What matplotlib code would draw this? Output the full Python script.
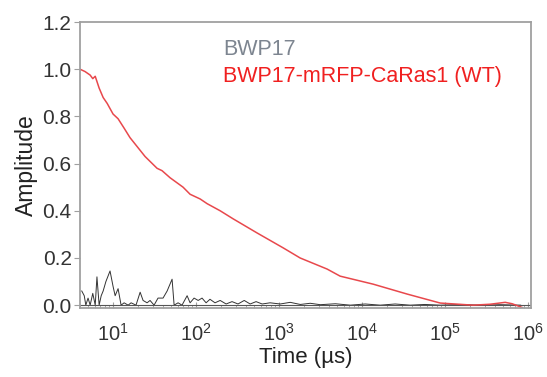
import matplotlib
matplotlib.use("Agg")
import matplotlib.pyplot as plt

plt.rcParams['font.family'] = ['Liberation Sans', 'DejaVu Sans']
plt.rcParams['mathtext.fontset'] = 'custom'
plt.rcParams['mathtext.rm'] = 'Liberation Sans'
plt.rcParams['mathtext.it'] = 'Liberation Sans:italic'
plt.rcParams['mathtext.bf'] = 'Liberation Sans:bold'

# BWP17-mRFP-CaRas1 (WT) decay
t_wt = [4.0, 4.6, 5.3, 5.7, 6.1, 6.8, 7.6, 8.5, 10, 11.5, 13.6, 16, 24.3, 33.9,
        38.9, 48.6, 69.7, 84.7, 112, 136, 195, 279, 543, 1117, 1791, 3785,
        5431, 13580, 34860, 87100, 217000, 348000, 528000, 641000, 847000]
amp_wt = [1.0, 0.99, 0.975, 0.96, 0.97, 0.92, 0.88, 0.855, 0.81, 0.79, 0.75,
          0.71, 0.63, 0.58, 0.57, 0.54, 0.50, 0.47, 0.45, 0.43, 0.40, 0.366,
          0.306, 0.243, 0.20, 0.153, 0.123, 0.089, 0.047, 0.009, 0.0, 0.004,
          0.012, 0.006, -0.01]

# BWP17 control (noise near zero)
t_bwp = [4.2, 4.5, 4.7, 5.0, 5.3, 5.7, 6.1, 6.4, 6.8, 7.2, 7.6, 8.2, 9.2, 10,
         10.6, 11.5, 12.5, 13.6, 15.2, 16.5, 18.9, 21.2, 23, 25.7, 27.9, 31.2,
         34.8, 40, 44.8, 51.4, 54.4, 60.7, 67.7, 78, 84.7, 94.6, 106, 118, 132,
         147, 169, 195, 230, 271, 320, 380, 448, 528, 625, 778, 1030, 1360,
         1800, 2370, 3130, 4760, 7200, 10900, 16500, 24970, 37800, 57000,
         87000, 152000, 265000, 463000, 810000]
amp_bwp = [0.06, 0.04, 0.0, 0.03, 0.0, 0.05, 0.0, 0.12, 0.0, 0.04, 0.06, 0.10,
           0.145, 0.08, 0.04, 0.07, 0.0, 0.01, 0.0, 0.01, 0.0, 0.055, 0.02,
           0.01, 0.02, 0.0, 0.03, 0.03, 0.06, 0.11, 0.0, 0.01, 0.0, 0.04, 0.01,
           0.03, 0.02, 0.03, 0.01, 0.025, 0.01, 0.02, 0.005, 0.015, 0.005, 0.02,
           0.005, 0.015, 0.005, 0.01, 0.005, 0.012, 0.003, 0.008, 0.002, 0.006,
           0.0, 0.005, 0.0, 0.005, 0.0, 0.003, 0.0, 0.003, 0.0, 0.002, 0.0]

fig = plt.figure(figsize=(5.47, 3.77), dpi=100)
ax = fig.add_axes([80 / 547, 1 - 308 / 377, (531 - 80) / 547, (308 - 22) / 377])

ax.plot(t_bwp, amp_bwp, color='#333333', lw=0.7)
ax.axhline(0, color='#555555', lw=0.8)
ax.plot(t_wt, amp_wt, color='#e8484c', lw=1.1)

ax.set_xscale('log')
ax.set_xlim(4.0, 1.08e6)
ax.set_ylim(-0.012, 1.2)
ax.set_yticks([0.0, 0.2, 0.4, 0.6, 0.8, 1.0, 1.2])
ax.set_yticklabels(['0.0', '0.2', '0.4', '0.6', '0.8', '1.0', '1.2'])

for s in ax.spines.values():
    s.set_color('#a0a0a0')
    s.set_linewidth(1.3)
ax.tick_params(axis='both', which='major', color='#a0a0a0',
               labelcolor='#333333', length=4)
ax.tick_params(axis='x', which='major', direction='in', pad=11, labelsize=14.5)
ax.tick_params(axis='x', which='minor', direction='in', length=2, color='#a0a0a0')
ax.tick_params(axis='y', which='major', direction='out', pad=2, labelsize=15)

ax.set_xlabel('Time (µs)', fontsize=16, color='#222222', labelpad=1)
ax.set_ylabel('Amplitude', fontsize=16.5, color='#222222', labelpad=3)

ax.text(0.317, 0.905, 'BWP17', transform=ax.transAxes, fontsize=15.5,
        color='#7d8590', va='center')
ax.text(0.317, 0.81, 'BWP17-mRFP-CaRas1 (WT)', transform=ax.transAxes,
        fontsize=15.5, color='#f02020', va='center')

fig.savefig('out.png', dpi=100)
